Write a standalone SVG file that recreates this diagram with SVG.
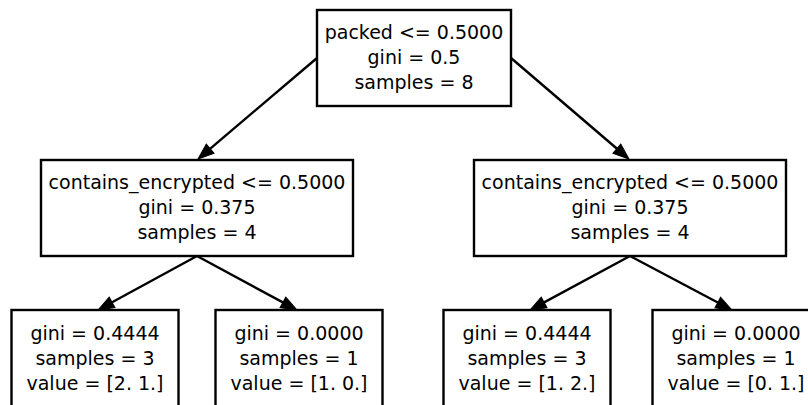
<svg xmlns="http://www.w3.org/2000/svg" width="808" height="405" viewBox="0 0 808 405">
<style>
.box{fill:#fff;stroke:#000;stroke-width:2.4}
.t{font-family:"DejaVu Sans",sans-serif;font-size:19px;fill:#000;text-anchor:middle}
.e{stroke:#000;stroke-width:2.4;fill:none;marker-end:url(#ah)}
</style>
<defs>
<marker id="ah" markerUnits="userSpaceOnUse" markerWidth="16" markerHeight="12" refX="1" refY="6" orient="auto" overflow="visible">
<path d="M0,0 L16,6 L0,12 z" fill="#000" stroke="#000" stroke-width="1"/>
</marker>
</defs>
<rect width="808" height="405" fill="#fff"/>
<g id="edges">
<line class="e" x1="317" y1="58" x2="209.4" y2="149.3"/>
<line class="e" x1="511" y1="58" x2="617.6" y2="149.25"/>
<line class="e" x1="197" y1="256" x2="111.2" y2="302.8"/>
<line class="e" x1="197" y1="256" x2="283.8" y2="302.9"/>
<line class="e" x1="630" y1="256" x2="543.2" y2="302.9"/>
<line class="e" x1="630" y1="256" x2="718.7" y2="303.0"/>
</g>
<g id="node0">
<rect class="box" x="317" y="10" width="194" height="96"/>
<text class="t" x="414" y="39">packed &lt;= 0.5000</text>
<text class="t" x="414" y="64">gini = 0.5</text>
<text class="t" x="414" y="89">samples = 8</text>
</g>
<g id="node1">
<rect class="box" x="41" y="160" width="312" height="96"/>
<text class="t" x="197" y="189">contains_encrypted &lt;= 0.5000</text>
<text class="t" x="197" y="214">gini = 0.375</text>
<text class="t" x="197" y="239">samples = 4</text>
</g>
<g id="node4">
<rect class="box" x="474" y="160" width="312" height="96"/>
<text class="t" x="630" y="189">contains_encrypted &lt;= 0.5000</text>
<text class="t" x="630" y="214">gini = 0.375</text>
<text class="t" x="630" y="239">samples = 4</text>
</g>
<g id="node2">
<rect class="box" x="11.5" y="310" width="167" height="110"/>
<text class="t" x="95" y="340">gini = 0.4444</text>
<text class="t" x="95" y="365">samples = 3</text>
<text class="t" x="95" y="390">value = [2. 1.]</text>
</g>
<g id="node3">
<rect class="box" x="215.5" y="310" width="167" height="110"/>
<text class="t" x="299" y="340">gini = 0.0000</text>
<text class="t" x="299" y="365">samples = 1</text>
<text class="t" x="299" y="390">value = [1. 0.]</text>
</g>
<g id="node5">
<rect class="box" x="443.5" y="310" width="167" height="110"/>
<text class="t" x="527" y="340">gini = 0.4444</text>
<text class="t" x="527" y="365">samples = 3</text>
<text class="t" x="527" y="390">value = [1. 2.]</text>
</g>
<g id="node6">
<rect class="box" x="652.5" y="310" width="167" height="110"/>
<text class="t" x="736" y="340">gini = 0.0000</text>
<text class="t" x="736" y="365">samples = 1</text>
<text class="t" x="736" y="390">value = [0. 1.]</text>
</g>
</svg>
